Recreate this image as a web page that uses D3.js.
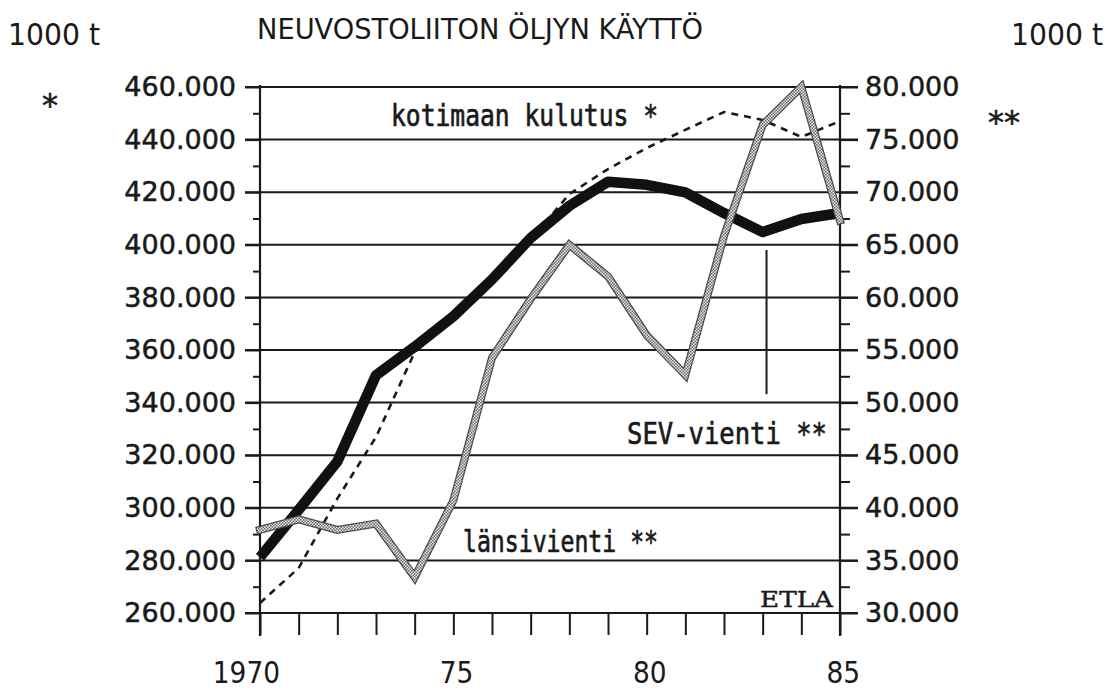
<!DOCTYPE html>
<html><head><meta charset="utf-8">
<script src="https://cdn.jsdelivr.net/npm/d3@7"></script>
<style>body{margin:0;background:#fff}</style>
</head><body>
<svg id="c" width="1113" height="690" xmlns="http://www.w3.org/2000/svg"></svg>
<script>
// ---- data ----
const years = [1970,1971,1972,1973,1974,1975,1976,1977,1978,1979,1980,1981,1982,1983,1984,1985];
// kotimaan kulutus * (left axis, 1000 t)
const kotimaanKulutus = [263800,277100,303500,326900,359200,372200,388200,401800,419300,428800,436800,443700,450500,447500,441000,447000];
// SEV-vienti ** (right axis, 1000 t)
const sevVienti = [35300,39800,44400,52600,55300,58200,61700,65650,68700,71000,70700,69980,68020,66210,67450,68020];
// länsivienti ** (right axis, 1000 t)
const lansivienti = [37900,38900,37900,38500,33400,40700,54240,59850,65000,62000,56400,52620,65840,76390,80000,67300];
const leftTicks = [260000,280000,300000,320000,340000,360000,380000,400000,420000,440000,460000];
const leftMinor = [270000,290000,310000,330000,350000,370000,390000,410000,430000,450000];
const rightTicks = [30000,35000,40000,45000,50000,55000,60000,65000,70000,75000,80000];
const rightMinor = [32500,37500,42500,47500,52500,57500,62500,67500,72500,77500];
const xLabelYears = [1970,1975,1980,1985];
const xLabelText = ["1970","75","80","85"];
const pointer = {year:1983.1, from:64500, to:50800};

// ---- scales ----
const svg = d3.select("#c");
const x = d3.scaleLinear().domain([1970,1985]).range([260,840]);
const yL = d3.scaleLinear().domain([260000,460000]).range([613,87]);
const yR = d3.scaleLinear().domain([30000,80000]).range([613,87]);
const fmt = d3.formatLocale({decimal:",",thousands:".",grouping:[3],currency:["",""]}).format(",");

const INK = "#1a1a1a";
const narrow = "'Liberation Sans Narrow','DejaVu Sans Condensed','DejaVu Sans',sans-serif";
const mono = "'DejaVu Sans Mono',monospace";

// checker pattern for the grey line
const defs = svg.append("defs");
const pat = defs.append("pattern").attr("id","chk").attr("patternUnits","userSpaceOnUse")
  .attr("width",3).attr("height",3);
pat.append("rect").attr("width",3).attr("height",3).attr("fill","#ececec");
pat.append("rect").attr("width",1.5).attr("height",1.5).attr("fill","#666");
pat.append("rect").attr("x",1.5).attr("y",1.5).attr("width",1.5).attr("height",1.5).attr("fill","#666");

// gridlines (act as major ticks on both axes)
svg.append("g").selectAll("line").data(leftTicks).join("line")
  .attr("x1",245).attr("x2",858)
  .attr("y1",d=>yL(d)).attr("y2",d=>yL(d))
  .attr("stroke",INK).attr("stroke-width",2);

// axis verticals
svg.append("line").attr("x1",x(1970)).attr("x2",x(1970)).attr("y1",yL(460000)-2).attr("y2",636)
  .attr("stroke",INK).attr("stroke-width",2.2);
svg.append("line").attr("x1",x(1985)).attr("x2",x(1985)).attr("y1",yL(460000)-2).attr("y2",636)
  .attr("stroke",INK).attr("stroke-width",2.2);

function styleAxis(g){
  g.select(".domain").remove();
  g.selectAll(".tick line").attr("stroke",INK).attr("stroke-width",2);
}

// left axis
const gl = svg.append("g").attr("transform",`translate(${x(1970)},0)`)
  .call(d3.axisLeft(yL).tickValues(leftTicks).tickSize(15).tickPadding(9).tickFormat(fmt));
styleAxis(gl);
gl.selectAll("text").attr("font-family","'DejaVu Sans',sans-serif").attr("font-size",27).attr("fill",INK)
  .attr("stroke",INK).attr("stroke-width",0.5);
const glm = svg.append("g").attr("transform",`translate(${x(1970)},0)`)
  .call(d3.axisLeft(yL).tickValues(leftMinor).tickSize(7).tickFormat(""));
styleAxis(glm);

// right axis
const gr = svg.append("g").attr("transform",`translate(${x(1985)},0)`)
  .call(d3.axisRight(yR).tickValues(rightTicks).tickSize(18).tickPadding(7).tickFormat(fmt));
styleAxis(gr);
gr.selectAll("text").attr("font-family","'DejaVu Sans',sans-serif").attr("font-size",27).attr("fill",INK)
  .attr("stroke",INK).attr("stroke-width",0.5);
const grm = svg.append("g").attr("transform",`translate(${x(1985)},0)`)
  .call(d3.axisRight(yR).tickValues(rightMinor).tickSize(10).tickFormat(""));
styleAxis(grm);

// bottom axis
const gb = svg.append("g").attr("transform",`translate(0,${yL(260000)})`)
  .call(d3.axisBottom(x).tickValues(years).tickSize(22).tickFormat(""));
styleAxis(gb);
svg.append("g").selectAll("text").data(xLabelYears).join("text")
  .attr("x",d=>x(d)+20).attr("y",683).attr("text-anchor","end")
  .attr("font-family",narrow).attr("font-size",30).attr("fill",INK)
  .attr("textLength",(d,i)=>xLabelText[i].length*16.8).attr("lengthAdjust","spacingAndGlyphs")
  .text((d,i)=>xLabelText[i]);

// series
const lineL = d3.line().x((d,i)=>x(years[i])).y(d=>yL(d));
const lineR = d3.line().x((d,i)=>x(years[i])).y(d=>yR(d));

svg.append("path").datum(kotimaanKulutus).attr("d",lineL)
  .attr("fill","none").attr("stroke",INK).attr("stroke-width",2.6)
  .attr("stroke-dasharray","7,6");

svg.append("path").datum(sevVienti).attr("d",lineR)
  .attr("fill","none").attr("stroke","#111").attr("stroke-width",10.5)
  .attr("stroke-linejoin","round").attr("stroke-linecap","butt");

svg.append("path").datum(lansivienti).attr("d",lineR)
  .attr("fill","none").attr("stroke","#4a4a4a").attr("stroke-width",8)
  .attr("stroke-linejoin","miter").attr("stroke-linecap","square");
svg.append("path").datum(lansivienti).attr("d",lineR)
  .attr("fill","none").attr("stroke","url(#chk)").attr("stroke-width",5.5)
  .attr("stroke-linejoin","miter").attr("stroke-linecap","square");

// pointer to SEV line
svg.append("line").attr("x1",x(pointer.year)).attr("x2",x(pointer.year))
  .attr("y1",yR(pointer.from)).attr("y2",yR(pointer.to))
  .attr("stroke",INK).attr("stroke-width",2);

// texts
function txt(t,xx,yy,opt){
  const e = svg.append("text").attr("x",xx).attr("y",yy).text(t)
    .attr("fill",INK).attr("font-family",opt.f).attr("font-size",opt.s);
  if(opt.len) e.attr("textLength",opt.len).attr("lengthAdjust","spacingAndGlyphs");
  if(opt.a) e.attr("text-anchor",opt.a);
  if(opt.w) e.attr("font-weight",opt.w);
  if(opt.sw) e.attr("stroke",INK).attr("stroke-width",opt.sw);
  return e;
}
txt("1000 t",8,45,{f:narrow,s:31,len:92});
txt("1000 t",1011,45,{f:narrow,s:31,len:92});
txt("NEUVOSTOLIITON ÖLJYN KÄYTTÖ",257,39,{f:narrow,s:28,len:446});
txt("*",42,116,{f:"'DejaVu Sans',sans-serif",s:32,sw:0.6});
txt("**",988,133,{f:"'DejaVu Sans',sans-serif",s:32,sw:0.6});
txt("kotimaan kulutus *",391,126,{f:mono,s:30,len:267,sw:0.7});
txt("SEV-vienti **",627,444,{f:mono,s:31,len:200,sw:0.7});
txt("länsivienti **",463,552,{f:mono,s:30,len:195,sw:0.7});
txt("ETLA",760,607,{f:"'DejaVu Serif',serif",s:22,len:73,sw:0.4});
</script>
</body></html>
